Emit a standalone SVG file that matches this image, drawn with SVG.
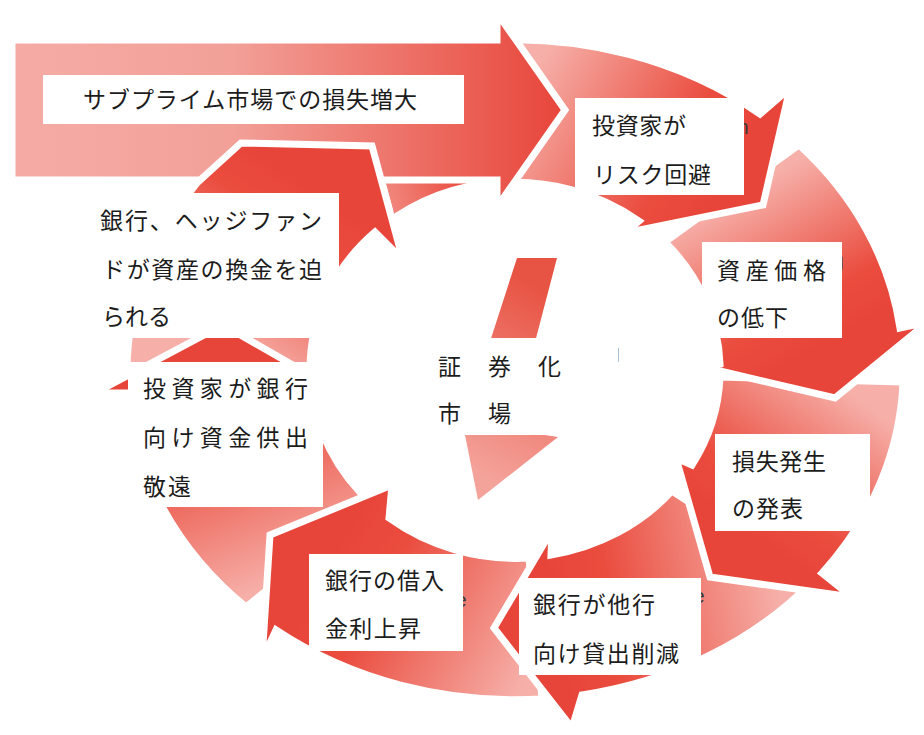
<svg xmlns="http://www.w3.org/2000/svg" width="924" height="735" viewBox="0 0 924 735">
<style>
.arr{stroke:#fff;stroke-width:7;stroke-linejoin:miter}
.box{fill:#fff}
.t{font-family:'Noto Sans CJK JP','Noto Sans CJK SC',sans-serif;fill:#1c1c1c;font-size:23px}
.frag{font-family:'Liberation Sans',Arial,sans-serif;fill:#3a3a3a;font-size:21px}
</style>
<defs>
<linearGradient id="base">
<stop offset="0" stop-color="#f6b0a9"/>
<stop offset="0.75" stop-color="#ea4c3e"/>
<stop offset="1" stop-color="#e8453a"/>
</linearGradient>
<linearGradient id="gA" href="#base" gradientUnits="userSpaceOnUse" x1="540" y1="60" x2="730" y2="170"/>
<linearGradient id="gB" href="#base" gradientUnits="userSpaceOnUse" x1="745" y1="190" x2="830" y2="340"/>
<linearGradient id="gC" href="#base" gradientUnits="userSpaceOnUse" x1="860" y1="400" x2="760" y2="540"/>
<linearGradient id="gD" href="#base" gradientUnits="userSpaceOnUse" x1="780" y1="600" x2="560" y2="640"/>
<linearGradient id="gE" href="#base" gradientUnits="userSpaceOnUse" x1="520" y1="690" x2="320" y2="580"/>
<linearGradient id="gF" href="#base" gradientUnits="userSpaceOnUse" x1="290" y1="580" x2="210" y2="380"/>
<linearGradient id="gG" href="#base" gradientUnits="userSpaceOnUse" x1="200" y1="330" x2="300" y2="180"/>
<linearGradient id="gH" href="#base" gradientUnits="userSpaceOnUse" x1="320" y1="160" x2="490" y2="110"/>
<linearGradient id="gBig" gradientUnits="userSpaceOnUse" x1="12" y1="0" x2="565" y2="0">
<stop offset="0" stop-color="#f5aca5"/>
<stop offset="0.4" stop-color="#f2a098"/>
<stop offset="1" stop-color="#e8453a"/>
</linearGradient>
<linearGradient id="gCenter" gradientUnits="userSpaceOnUse" x1="470" y1="470" x2="560" y2="300">
<stop offset="0" stop-color="#f4a39b"/>
<stop offset="1" stop-color="#e85444"/>
</linearGradient>
<clipPath id="clipG"><rect x="150" y="60" width="300" height="150"/></clipPath>
<path id="arrowG" class="arr" fill="url(#gG)" d="M127,370 A388,330 0 0 1 197,183 L241,143 L372,146 L403,260 L375,232 A205,188 0 0 0 310,370 Z"/>
</defs>

<g id="connectors">
<path id="arrowH" class="arr" fill="url(#gH)" d="M266,117 A388,330 0 0 1 488,48 L492,48 L560,115 L503,208 L501,182 A205,188 0 0 0 383,226 Z"/>
<use href="#arrowG"/>
<path id="arrowF" class="arr" fill="url(#gF)" d="M246,607 A388,330 0 0 1 128,393 L95,393 L223,325 L338,391 L311,383 A205,188 0 0 0 373,505 Z"/>
<path id="arrowE" class="arr" fill="url(#gE)" d="M542,699 A388,330 0 0 1 276,630 L262,660 L270,535 L392,485 L389,518 A205,188 0 0 0 529,558 Z"/>
<path id="arrowD" class="arr" fill="url(#gD)" d="M812,582 A388,330 0 0 1 582,695 L572,728 L494,628 L552,530 L551,555 A205,188 0 0 0 672,491 Z"/>
<path id="arrowC" class="arr" fill="url(#gC)" d="M903,382 A388,330 0 0 1 822,573 L852,597 L710,577 L676,458 L692,465 A205,188 0 0 0 720,377 Z"/>
<path id="arrowB" class="arr" fill="url(#gB)" d="M799,145 A388,330 0 0 1 900,328 L928,322 L835,398 L703,367 L720,364 A205,188 0 0 0 665,242 Z"/>
<path id="arrowA" class="arr" fill="url(#gA)" d="M481,41 A388,330 0 0 1 760,114 L790,88 L763,205 L625,233 L639,221 A205,188 0 0 0 497,183 Z"/>
<polygon id="bigArrow" class="arr" stroke-width="6" fill="url(#gBig)" points="12,40 497,40 497,13 565,110 497,207 497,180 12,180"/>
<use href="#arrowG" clip-path="url(#clipG)"/>
<polygon id="centerArrow" fill="url(#gCenter)" points="517,258 557,258 512,430 558,437 478,500 463,425"/>
</g>

<g id="fragments">
<text class="frag" x="737" y="134">n</text>
<text class="frag" x="832" y="268">g</text>
<text class="frag" x="455" y="607" font-size="20">e</text>
<text class="frag" x="693" y="603" font-size="20">e</text>
</g>

<g id="n-subprime">
<rect class="box" x="43" y="75" width="421" height="49"/>
<text class="t" x="83" y="108" font-size="24" textLength="334">サブプライム市場での損失増大</text>
</g>
<g id="n-risk">
<rect class="box" x="575" y="98" width="169" height="97"/>
<text class="t" x="592" y="134" textLength="94">投資家が</text>
<text class="t" x="593" y="183" textLength="118">リスク回避</text>
</g>
<g id="n-price">
<rect class="box" x="702" y="242" width="140" height="96"/>
<text class="t" x="717" y="279" textLength="109">資産価格</text>
<text class="t" x="717" y="326" textLength="71">の低下</text>
</g>
<g id="n-loss">
<rect class="box" x="715" y="434" width="155" height="97"/>
<text class="t" x="732" y="470" textLength="94">損失発生</text>
<text class="t" x="732" y="517" textLength="71">の発表</text>
</g>
<g id="n-lending">
<rect class="box" x="519" y="578" width="182" height="97"/>
<text class="t" x="533" y="613" textLength="122">銀行が他行</text>
<text class="t" x="533" y="662" textLength="146">向け貸出削減</text>
</g>
<g id="n-rate">
<rect class="box" x="309" y="554" width="154" height="97"/>
<text class="t" x="325" y="589" textLength="119">銀行の借入</text>
<text class="t" x="325" y="637" textLength="96">金利上昇</text>
</g>
<g id="n-investor">
<rect class="box" x="128" y="362" width="195" height="145"/>
<text class="t" x="143" y="397" textLength="165">投資家が銀行</text>
<text class="t" x="143" y="446" textLength="165">向け資金供出</text>
<text class="t" x="143" y="495" textLength="48">敬遠</text>
</g>
<g id="n-hedge">
<rect class="box" x="82" y="193" width="257" height="145"/>
<text class="t" x="100" y="229" textLength="222">銀行、ヘッジファン</text>
<text class="t" x="102" y="278" textLength="220">ドが資産の換金を迫</text>
<text class="t" x="102" y="325" textLength="69">られる</text>
</g>
<g id="n-center">
<rect class="box" x="413" y="338" width="205" height="97"/>
<line x1="618.5" y1="348" x2="618.5" y2="362" stroke="#a8c0d8" stroke-width="1"/>
<text class="t" x="438" y="375" font-size="26" letter-spacing="2">証　券　化</text>
<text class="t" x="438" y="422" font-size="26" letter-spacing="2">市　場</text>
</g>
</svg>
